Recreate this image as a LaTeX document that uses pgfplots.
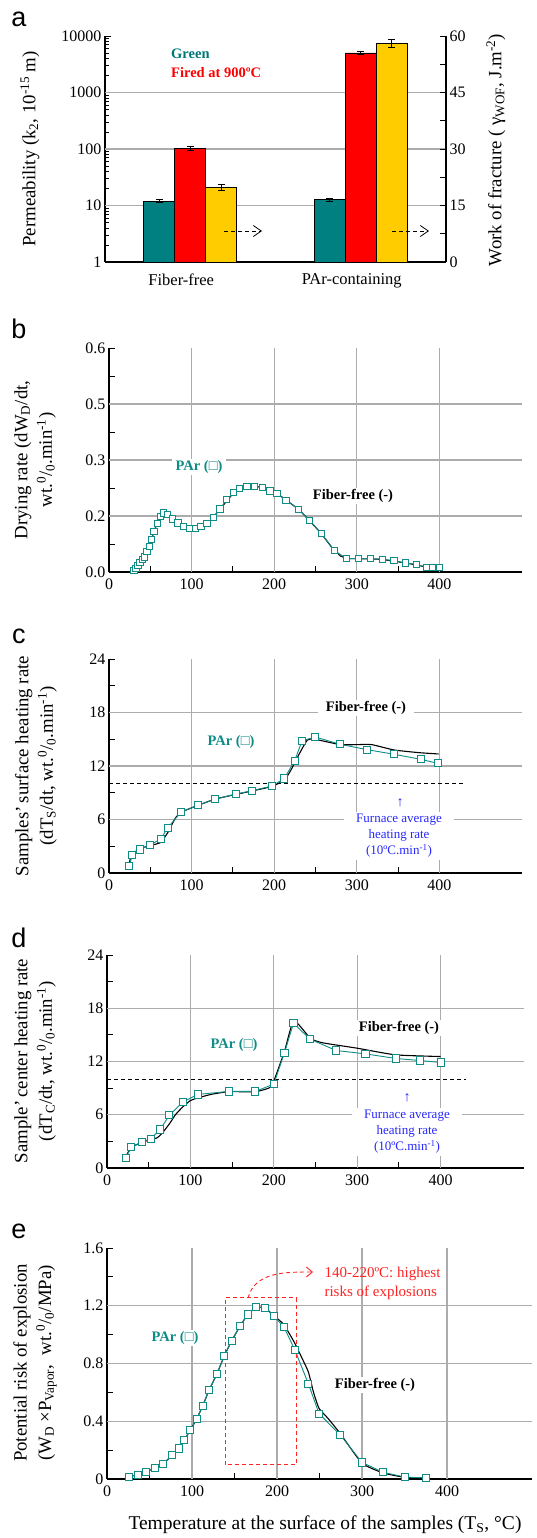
\documentclass[border=0pt]{standalone}
\usepackage{fontspec}
\setmainfont{Liberation Serif}
\newfontfamily\sansf{Liberation Sans}
\usepackage{pgfplots}
\pgfplotsset{compat=1.18}
\usetikzlibrary{arrows.meta}
\definecolor{tealbar}{RGB}{0,128,128}
\definecolor{parcol}{RGB}{16,140,134}
\definecolor{redbar}{RGB}{255,0,0}
\definecolor{yelbar}{RGB}{255,204,0}
\definecolor{gridg}{RGB}{172,172,172}
\definecolor{blu}{RGB}{40,40,255}
\definecolor{redtxt}{RGB}{255,35,35}
\definecolor{greentxt}{RGB}{0,118,118}
\newcommand{\pct}{\textsuperscript{0}/\textsubscript{0}}
\pgfplotsset{
  base/.style={scale only axis, anchor=south west, clip=false,
    axis line style={-, line width=1.1pt, black},
    tick align=inside, major tick length=6pt, minor tick length=4pt,
    tick style={black, line width=0.9pt},
    grid style={gridg, line width=1.1pt},
    tick label style={font=\fontsize{16}{18}\selectfont},
    /pgf/number format/assume math mode=true},
  panel/.style={base,
    axis x line*=bottom, axis y line*=left,
    xmin=0, xmax=500, xtick={0,100,200,300,400},
    minor xtick={50,150,250,350}, minor tick length=6pt,
    extra x ticks={100,200,300,400}, extra x tick labels={,,,},
    extra x tick style={grid=major, major tick length=0pt},
    xticklabel style={yshift=-3pt}},
  ffline/.style={black, line width=1.1pt, no marks},
  parline/.style={parcol, line width=0.9pt, mark=square*, mark size=3.1pt,
    mark options={fill=white, draw=parcol, line width=1pt, solid}},
}
\begin{document}
\begin{tikzpicture}
\useasboundingbox (0pt,0pt) rectangle (536pt,-1538pt);
% ---------------- panel a ----------------
\begin{axis}[base, at={(105pt,-262pt)}, width=341pt, height=226pt,
  ymode=log, ymin=1, ymax=10000, xmin=0.5, xmax=2.5,
  axis x line*=bottom, axis y line*=left,
  ytick={1,10,100,1000,10000}, yticklabels={1,10,100,1000,10000},
  minor ytick={2,3,4,5,6,7,8,9,20,30,40,50,60,70,80,90,200,300,400,500,600,700,800,900,2000,3000,4000,5000,6000,7000,8000,9000},
  extra y ticks={10,100,1000}, extra y tick labels={,,},
  extra y tick style={grid=major, major tick length=0pt},
  xtick={1,2}, xticklabels={Fiber-free,PAr-containing},
  xticklabel style={font=\fontsize{16.5}{18}\selectfont, xshift=-9pt, yshift=-2pt},
  x tick style={draw=none},
  ybar, bar width=0.182,
  error bars/y dir=both, error bars/y explicit,
  error bars/error bar style={black, line width=0.8pt},
  error bars/error mark options={rotate=90, black, mark size=3.5pt, line width=0.8pt}]
\addplot[fill=tealbar, draw=black, line width=0.8pt, bar shift=-0.182]
  coordinates {(1,11.9) +- (0,0.7) (2,12.8) +- (0,0.8)};
\addplot[fill=redbar, draw=black, line width=0.8pt, bar shift=0]
  coordinates {(1,101) +- (0,8) (2,5012) +- (0,350)};
\end{axis}
\begin{axis}[base, at={(105pt,-262pt)}, width=341pt, height=226pt,
  ymin=0, ymax=60, xmin=0.5, xmax=2.5,
  axis x line=none, axis y line*=right,
  ytick={0,15,30,45,60}, minor ytick={7.5,22.5,37.5,52.5}, minor tick length=6pt,
  ybar, bar width=0.182,
  error bars/y dir=both, error bars/y explicit,
  error bars/error bar style={black, line width=0.8pt},
  error bars/error mark options={rotate=90, black, mark size=3.5pt, line width=0.8pt}]
\addplot[fill=yelbar, draw=black, line width=0.8pt, bar shift=0.182]
  coordinates {(1,19.8) +- (0,0.9) (2,58.1) +- (0,1.1)};
\end{axis}
% ---------------- panel b ----------------
\begin{axis}[panel, at={(109pt,-572pt)}, width=413pt, height=224pt,
  ymin=0, ymax=0.6, ytick={0,0.15,0.3,0.45,0.6}, yticklabels={0.0,0.2,0.3,0.5,0.6},
  minor ytick={0.075,0.225,0.375,0.525},
  extra y ticks={0.15,0.3,0.45}, extra y tick labels={,,},
  extra y tick style={grid=major, major tick length=0pt}]
\addplot[ffline] coordinates {(30,0.002) (40,0.03) (50,0.08) (58,0.13) (65,0.156) (72,0.152) (85,0.13) (100,0.117) (110,0.12) (120,0.13) (135,0.17) (150,0.21) (165,0.228) (180,0.229) (195,0.218) (205,0.208) (215,0.192) (230,0.167) (243,0.137) (257,0.103) (270,0.065) (280,0.043) (288,0.036) (300,0.036) (330,0.034) (360,0.024) (385,0.013) (400,0.012)};
\addplot[parline] coordinates {(30.3,0.003) (32.7,0.009) (35.1,0.017) (37.5,0.025) (40.4,0.033) (42.8,0.040) (46.0,0.054) (48.8,0.069) (51.7,0.088) (54.5,0.108) (58.5,0.129) (62.2,0.149) (65.8,0.158) (71.0,0.154) (77.1,0.142) (83.6,0.131) (90.4,0.122) (97.3,0.117) (104.5,0.117) (111.4,0.121) (118.7,0.129) (126.7,0.147) (134.4,0.169) (142.5,0.194) (150.9,0.212) (158.2,0.223) (167.1,0.229) (176.4,0.229) (185.7,0.227) (194.9,0.217) (203.4,0.210) (214.3,0.192) (229.7,0.168) (243.0,0.138) (257.1,0.103) (273.3,0.057) (287.4,0.036) (301.9,0.036) (316.4,0.036) (331.4,0.034) (345.1,0.030) (358.8,0.024) (372.6,0.020) (385.1,0.012) (391.9,0.012) (400.0,0.012)};
\end{axis}
% ---------------- panel c ----------------
\begin{axis}[panel, at={(109pt,-873pt)}, width=413pt, height=214pt,
  ymin=0, ymax=24, ytick={0,6,12,18,24}, minor ytick={3,9,15,21},
  extra y ticks={6,12,18}, extra y tick labels={,,},
  extra y tick style={grid=major, major tick length=0pt}]
\addplot[black, dashed, line width=0.9pt, dash pattern=on 4pt off 3pt, no marks] coordinates {(0,10) (432,10)};
\addplot[ffline, smooth, tension=0.3] coordinates {(24,1.0) (28,2.1) (37,2.7) (50,3.1) (62,3.4) (71,4.5) (80,6.1) (87,6.8) (108,7.6) (129,8.3) (153,8.8) (173,9.2) (197,9.7) (212,10.4) (220,11.5) (230,13.3) (240,14.9) (249,15.0) (280,14.4) (300,14.4) (318,14.4) (345,13.8) (375,13.5) (399,13.35)};
\addplot[parline, mark size=3.6pt] coordinates {(24.2,0.75) (28.3,2.06) (37.5,2.63) (49.6,3.15) (62.6,3.79) (71,5.06) (87.2,6.83) (108.2,7.61) (128.8,8.29) (153.4,8.85) (172.7,9.22) (197,9.75) (212.3,10.61) (224.8,12.6) (233.7,14.81) (249.4,15.26) (279.7,14.44) (312,13.84) (345.5,13.31) (377.4,12.75) (398,12.3)};
\end{axis}
% ---------------- panel d ----------------
\begin{axis}[panel, at={(107pt,-1168pt)}, width=417pt, height=213pt,
  ymin=0, ymax=24, ytick={0,6,12,18,24}, minor ytick={3,9,15,21},
  extra y ticks={6,12,18}, extra y tick labels={,,},
  extra y tick style={grid=major, major tick length=0pt}]
\addplot[black, dashed, line width=0.9pt, dash pattern=on 4pt off 3pt, no marks] coordinates {(0,10) (431,10)};
\addplot[ffline, smooth, tension=0.3] coordinates {(22,1.2) (29,2.3) (42,2.9) (52,3.2) (60,3.4) (66,3.9) (75,5.0) (82,6.0) (91,6.9) (100,7.6) (109,7.9) (125,8.3) (146,8.6) (178,8.6) (196,9.1) (202,10.3) (213,13.2) (224,16.6) (244,14.6) (259,14.1) (300,13.5) (346,12.75) (400,12.56)};
\addplot[parline, mark size=3.6pt] coordinates {(22.4,1.16) (29.2,2.33) (41.6,2.93) (52.4,3.3) (63.6,4.35) (74.8,5.93) (90.8,7.43) (108.8,8.29) (146,8.63) (177.6,8.63) (200,9.45) (212.8,13.0) (223.6,16.31) (243.6,14.51) (274.8,13.24) (310,12.86) (346.4,12.34) (375.2,12.11) (400.4,11.89)};
\end{axis}
% ---------------- panel e ----------------
\begin{axis}[panel, at={(107pt,-1479pt)}, width=425pt, height=231pt,
  ymin=0, ymax=1.6, ytick={0,0.4,0.8,1.2,1.6}, yticklabels={0,0.4,0.8,1.2,1.6},
  minor ytick={0.2,0.6,1.0,1.4},
  extra y ticks={0.4,0.8,1.2}, extra y tick labels={,,},
  extra y tick style={grid=major, major tick length=0pt}]
\addplot[ffline, smooth, tension=0.3] coordinates {(25.9,0.016) (36,0.03) (46,0.048) (56,0.079) (66,0.106) (76.5,0.164) (84,0.212) (90.6,0.268) (98,0.339) (105.5,0.416) (112.5,0.506) (120,0.614) (129,0.725) (138,0.852) (146.7,0.958) (156.5,1.058) (165.5,1.139) (175.3,1.189) (185.9,1.185) (196.5,1.13) (208,1.07) (221,0.94) (230,0.83) (237,0.74) (243,0.6) (249.4,0.49) (260,0.42) (274.5,0.314) (300,0.11) (325,0.042) (350,0.012) (376,0.006)};
\addplot[parline, mark size=3.6pt] coordinates {(25.9,0.016) (36.1,0.030) (46.3,0.048) (56.1,0.079) (66.3,0.106) (76.5,0.164) (84.3,0.212) (90.6,0.268) (98,0.339) (105.5,0.416) (112.5,0.506) (120,0.614) (129,0.725) (138,0.852) (146.7,0.958) (156.5,1.058) (165.5,1.139) (175.3,1.189) (185.9,1.185) (196.5,1.127) (208.2,1.053) (221.2,0.891) (236.9,0.660) (249.4,0.453) (274.5,0.305) (300,0.115) (325.1,0.046) (350.2,0.014) (375.7,0.007)};
\draw[redtxt, line width=1pt, dash pattern=on 4pt off 3pt] (axis cs:139,0.1) rectangle (axis cs:223,1.255);
\end{axis}
% ---------------- labels ----------------
\tikzset{lab/.style={font=\fontsize{18.8}{24.5}\selectfont, rotate=90, align=center}}
\node[lab] at (30pt,-149pt) {Permeability (k\textsubscript{2}, 10\textsuperscript{-15} m)};
\node[lab] at (496pt,-150pt) {Work of fracture ( γ\textsubscript{WOF}, J.m\textsuperscript{-2})};
\node[lab] at (35pt,-460pt) {Drying rate (dW\textsubscript{D}/dt,\\ wt.\pct.min\textsuperscript{-1})};
\node[lab] at (36pt,-766pt) {Samples’\,surface heating rate\\(dT\textsubscript{S}/dt, wt.\pct.min\textsuperscript{-1})};
\node[lab] at (35pt,-1061pt) {Sample’\,center heating rate\\(dT\textsubscript{C}/dt, wt.\pct.min\textsuperscript{-1})};
\node[lab] at (35pt,-1363pt) {Potential risk of explosion\\(W\textsubscript{D} ×P\textsubscript{Vapor}, \ wt.\pct/MPa)};
\node[font=\fontsize{19.5}{22}\selectfont] at (325pt,-1525pt) {Temperature at the surface of the samples (T\textsubscript{S}, °C)};
% panel letters
\tikzset{plab/.style={font=\sansf\fontsize{27}{27}\selectfont, anchor=base}}
\node[plab] at (19pt,-27pt) {a};
\node[plab] at (19pt,-338pt) {b};
\node[plab] at (19pt,-643pt) {c};
\node[plab] at (19pt,-947pt) {d};
\node[plab] at (19pt,-1238pt) {e};
% annotations
\tikzset{bt/.style={font=\bfseries\fontsize{14.5}{17}\selectfont, fill=white, inner xsep=4pt, inner ysep=1pt}}
\node[bt, anchor=west, text=greentxt, fill=none] at (167pt,-54pt) {Green};
\node[bt, anchor=west, text=redbar, fill=none] at (167pt,-73pt) {Fired at 900ºC};
\draw[black, line width=0.8pt, dash pattern=on 4pt off 3pt, -{Straight Barb[length=8pt,width=11pt]}] (224pt,-231pt) -- (262pt,-231pt);
\draw[black, line width=0.8pt, dash pattern=on 4pt off 3pt, -{Straight Barb[length=8pt,width=11pt]}] (392pt,-231pt) -- (429pt,-231pt);
% b
\node[bt, text=parcol] at (199pt,-467pt) {PAr (□)};
\node[bt] at (353pt,-496pt) {Fiber-free (-)};
% c
\node[bt, inner xsep=8pt] at (366pt,-708pt) {Fiber-free (-)};
\node[bt, text=parcol] at (231pt,-742pt) {PAr (□)};
\node[text=blu, font=\fontsize{14}{16}\selectfont] at (400pt,-803pt) {↑};
\node[text=blu, fill=white, align=center, inner xsep=12pt, inner ysep=2pt, font=\fontsize{13}{16}\selectfont] at (399pt,-836pt) {Furnace average\\heating rate\\(10ºC.min\textsuperscript{-1})};
% d
\node[bt, inner xsep=8pt] at (399pt,-1028pt) {Fiber-free (-)};
\node[bt, text=parcol] at (234pt,-1045pt) {PAr (□)};
\node[text=blu, font=\fontsize{14}{16}\selectfont] at (407pt,-1098pt) {↑};
\node[text=blu, fill=white, align=center, inner xsep=12pt, inner ysep=2pt, font=\fontsize{13}{16}\selectfont] at (407pt,-1132pt) {Furnace average\\heating rate\\(10ºC.min\textsuperscript{-1})};
% e
\node[bt, text=parcol] at (175pt,-1338pt) {PAr (□)};
\node[bt] at (375pt,-1385pt) {Fiber-free (-)};
\draw[redtxt, line width=0.9pt, dash pattern=on 4pt off 3pt, -{Straight Barb[length=6pt,width=10pt]}] (248pt,-1298pt) to[out=75,in=180] (313pt,-1272pt);
\node[text=redtxt, anchor=west, align=left, font=\fontsize{15}{19}\selectfont] at (321pt,-1283pt) {140-220ºC: highest\\risks of explosions};
\end{tikzpicture}
\end{document}
